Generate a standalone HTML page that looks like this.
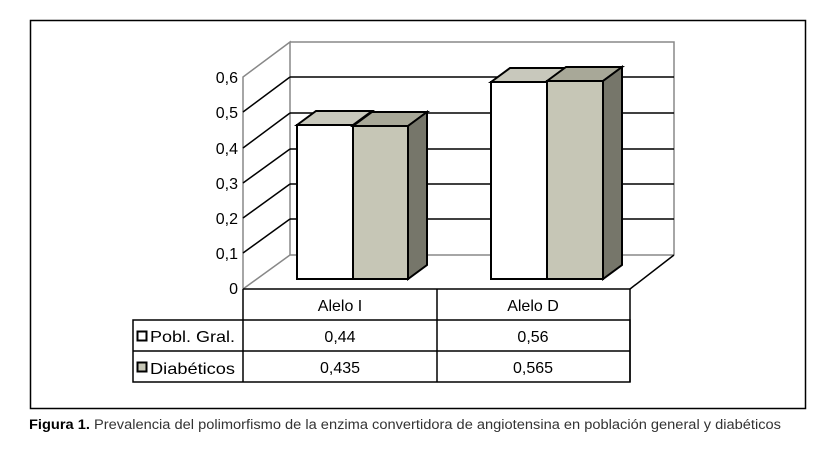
<!DOCTYPE html>
<html><head><meta charset="utf-8"><style>
html,body{margin:0;padding:0;background:#fff;}
svg{display:block;}
text{font-family:"Liberation Sans",Arial,sans-serif;}
</style></head><body>
<svg width="822" height="454" viewBox="0 0 822 454" xmlns="http://www.w3.org/2000/svg">
<rect x="30.5" y="20.5" width="775" height="388" fill="#fff" stroke="#000" stroke-width="1.5"/>
<polyline points="243,289 290,255 674,255" fill="none" stroke="#888" stroke-width="1.5"/>
<polyline points="243,289 243,77 290,42 290,255" fill="none" stroke="#888" stroke-width="1.5"/>
<polyline points="290,42 674,42 674,255" fill="none" stroke="#888" stroke-width="1.5"/>
<g stroke="#000" stroke-width="1.5">
<line x1="243" y1="253" x2="290" y2="219"/><line x1="290" y1="219" x2="674" y2="219"/>
<line x1="243" y1="218" x2="290" y2="184"/><line x1="290" y1="184" x2="674" y2="184"/>
<line x1="243" y1="183" x2="290" y2="149"/><line x1="290" y1="149" x2="674" y2="149"/>
<line x1="243" y1="148" x2="290" y2="113"/><line x1="290" y1="113" x2="674" y2="113"/>
<line x1="243" y1="112" x2="290" y2="77"/><line x1="290" y1="77" x2="674" y2="77"/>
<line x1="630" y1="289" x2="674" y2="255"/>
</g>
<g font-size="16" fill="#000" text-anchor="end">
<text x="238" y="83">0,6</text><text x="238" y="118">0,5</text><text x="238" y="154">0,4</text>
<text x="238" y="189">0,3</text><text x="238" y="224">0,2</text><text x="238" y="259">0,1</text><text x="238" y="294">0</text>
</g>
<g stroke="#000" stroke-width="2" stroke-linejoin="miter">
<polygon points="297,125 316,111 372,111 353,125" fill="#c8c8bc"/>
<rect x="297" y="125" width="56" height="154" fill="#fff"/>
<polygon points="353,126 372,112 427,112 408,126" fill="#a8a898"/>
<polygon points="408,126 427,112 427,265 408,279" fill="#76766a"/>
<rect x="353" y="126" width="55" height="153" fill="#c6c6b6"/>
<polygon points="491,82 510,68 566,68 547,82" fill="#c8c8bc"/>
<rect x="491" y="82" width="56" height="197" fill="#fff"/>
<polygon points="547,81 566,67 622,67 603,81" fill="#a8a898"/>
<polygon points="603,81 622,67 622,265 603,279" fill="#76766a"/>
<rect x="547" y="81" width="56" height="198" fill="#c6c6b6"/>
</g>
<g stroke="#000" stroke-width="1.5" fill="none">
<line x1="243" y1="289" x2="630" y2="289"/>
<line x1="243" y1="289" x2="243" y2="382"/>
<line x1="437" y1="289" x2="437" y2="382"/>
<line x1="630" y1="289" x2="630" y2="382"/>
<rect x="133" y="320" width="497" height="62"/>
<line x1="133" y1="351" x2="630" y2="351"/>
</g>
<g font-size="16" fill="#000" text-anchor="middle">
<text x="340" y="311">Alelo I</text><text x="533" y="311">Alelo D</text>
<text x="340" y="342">0,44</text><text x="533" y="342">0,56</text>
<text x="340" y="373">0,435</text><text x="533" y="373">0,565</text>
</g>
<rect x="137.5" y="331.5" width="9" height="9" fill="#fff" stroke="#000" stroke-width="2"/>
<rect x="137.5" y="362.5" width="9" height="9" fill="#c6c6b6" stroke="#000" stroke-width="2"/>
<text x="150" y="342" font-size="16" textLength="85" lengthAdjust="spacingAndGlyphs">Pobl. Gral.</text>
<text x="150" y="374" font-size="16" textLength="85" lengthAdjust="spacingAndGlyphs">Diabéticos</text>
<text x="29" y="429" font-size="13.5" fill="#333" textLength="752" lengthAdjust="spacingAndGlyphs"><tspan font-weight="bold" fill="#000">Figura 1.</tspan> Prevalencia del polimorfismo de la enzima convertidora de angiotensina en población general y diabéticos</text>
</svg>
</body></html>
